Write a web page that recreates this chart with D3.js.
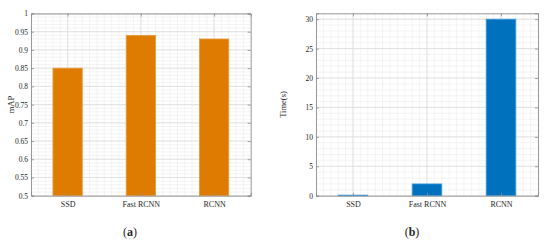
<!DOCTYPE html>
<html lang="en">
<head>
<meta charset="utf-8">
<title>mAP and time per detector</title>
<script src="https://d3js.org/d3.v7.min.js"></script>
<style>
  body { margin: 0; background: #fff; }
  svg text { font-family: "Liberation Serif", "DejaVu Serif", serif; fill: #262626; }
</style>
</head>
<body>
<script>
// data
var categories = ["SSD", "Fast RCNN", "RCNN"];
var mapValues = [0.85, 0.94, 0.93];
var timeValues = [0.1, 2, 30];
var mapTicks = [0.5, 0.55, 0.6, 0.65, 0.7, 0.75, 0.8, 0.85, 0.9, 0.95, 1];
var timeTicks = [0, 5, 10, 15, 20, 25, 30];

var w = 550, h = 244;
var svg = d3.select("body").append("svg").attr("width", w).attr("height", h);

function panel(o) {
  var g = svg.append("g");
  var x = d3.scaleLinear().domain([0.5, 3.5]).range([o.left, o.right]);
  var y = d3.scaleLinear().domain(o.ydom).range([o.bottom, o.top]);

  // minor grid
  d3.range(0.6, 3.45, 0.1).forEach(function(v) {
    g.append("line").attr("x1", x(v)).attr("x2", x(v)).attr("y1", o.top).attr("y2", o.bottom)
      .attr("stroke", "#ececec").attr("stroke-width", 0.6);
  });
  d3.range(o.ydom[0] + o.minor, o.ydom[1] - o.minor / 2, o.minor).forEach(function(v) {
    g.append("line").attr("x1", o.left).attr("x2", o.right).attr("y1", y(v)).attr("y2", y(v))
      .attr("stroke", "#ececec").attr("stroke-width", 0.6);
  });
  // major grid
  o.ticks.forEach(function(v) {
    g.append("line").attr("x1", o.left).attr("x2", o.right).attr("y1", y(v)).attr("y2", y(v))
      .attr("stroke", "#dadada").attr("stroke-width", 0.7);
  });
  [1, 2, 3].forEach(function(v) {
    g.append("line").attr("x1", x(v)).attr("x2", x(v)).attr("y1", o.top).attr("y2", o.bottom)
      .attr("stroke", "#dadada").attr("stroke-width", 0.7);
  });

  // bars
  var bw = x(1.4) - x(1);
  g.selectAll("rect.bar").data(o.values).enter().append("rect")
    .attr("class", "bar")
    .attr("x", function(d, i) { return x(i + 1) - bw / 2; })
    .attr("y", function(d) { return y(d); })
    .attr("width", bw)
    .attr("height", function(d) { return y(o.ydom[0]) - y(d); })
    .attr("fill", o.color)
    .attr("stroke", o.edge).attr("stroke-width", 0.8);

  // axes
  var yAxis = d3.axisLeft(y).tickValues(o.ticks).tickSize(-3).tickPadding(3)
    .tickFormat(function(d) { return String(+d.toFixed(2)); });
  var ya = g.append("g").attr("transform", "translate(" + o.left + ",0)").call(yAxis);
  var yr = g.append("g").attr("transform", "translate(" + o.right + ",0)")
    .call(d3.axisRight(y).tickValues(o.ticks).tickSize(-3).tickFormat(""));
  var xa = g.append("g").attr("transform", "translate(0," + o.bottom + ")")
    .call(d3.axisBottom(x).tickValues([1, 2, 3]).tickSize(-3).tickPadding(6)
      .tickFormat(function(d) { return categories[d - 1]; }));
  var xt = g.append("g").attr("transform", "translate(0," + o.top + ")")
    .call(d3.axisTop(x).tickValues([1, 2, 3]).tickSize(-3).tickFormat(""));
  [ya, yr, xa, xt].forEach(function(a) {
    a.selectAll("path.domain").attr("stroke", "#8c8c8c").attr("stroke-width", 0.9);
    a.selectAll(".tick line").attr("stroke", "#8c8c8c").attr("stroke-width", 0.8);
    a.selectAll("text").style("font-size", "8px").attr("fill", "#262626")
      .style("font-family", '"Liberation Serif", serif');
  });
  ya.selectAll("text").style("font-size", "7.5px");

  // y label
  g.append("text")
    .attr("transform", "translate(" + o.ylabX + "," + (o.top + o.bottom) / 2 + ") rotate(-90)")
    .attr("text-anchor", "middle").style("font-size", "8.5px")
    .text(o.ylabel);

  // panel tag
  var t = g.append("text").attr("x", o.tagX).attr("y", 236).attr("text-anchor", "middle")
    .style("font-size", "12px");
  t.append("tspan").text("(");
  t.append("tspan").style("font-weight", "bold").text(o.tag);
  t.append("tspan").text(")");
}

panel({
  left: 31, right: 250.7, top: 13.5, bottom: 195.7,
  ydom: [0.5, 1], ticks: mapTicks, minor: 0.01, values: mapValues,
  color: "#dd7c00", edge: "#ea9a3a", ylabel: "mAP", ylabX: 14, tag: "a", tagX: 130
});

panel({
  left: 316, right: 538, top: 13.3, bottom: 195.7,
  ydom: [0, 31], ticks: timeTicks, minor: 1, values: timeValues,
  color: "#0072bd", edge: "#3f9be0", ylabel: "Time(s)", ylabX: 286, tag: "b", tagX: 412
});
</script>
</body>
</html>
